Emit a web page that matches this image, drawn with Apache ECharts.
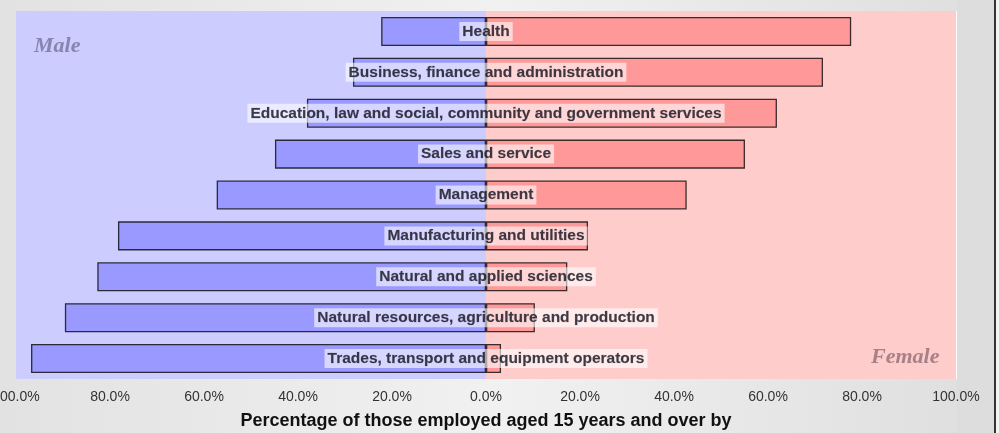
<!DOCTYPE html>
<html>
<head>
<meta charset="utf-8">
<script src="https://cdn.jsdelivr.net/npm/echarts@6/dist/echarts.min.js"></script>
<style>html,body{margin:0;padding:0;}#c{width:999px;height:433px;}</style>
</head>
<body>
<div id="c"></div>
<script>
var categories = [
  "Health",
  "Business, finance and administration",
  "Education, law and social, community and government services",
  "Sales and service",
  "Management",
  "Manufacturing and utilities",
  "Natural and applied sciences",
  "Natural resources, agriculture and production",
  "Trades, transport and equipment operators"
];
var maleValues = [22.3, 28.3, 38.1, 44.9, 57.3, 78.3, 82.7, 89.6, 96.8];
var femaleValues = [77.7, 71.7, 61.9, 55.1, 42.7, 21.7, 17.3, 10.4, 3.2];
var axisTitle = "Percentage of those employed aged 15 years and over by";

var chart = echarts.init(document.getElementById('c'), null, {renderer: 'canvas'});
var option = {
  animation: false,
  backgroundColor: {
    type: 'linear', x: 0, y: 0, x2: 1, y2: 0,
    colorStops: [
      {offset: 0, color: '#e2e2e2'},
      {offset: 0.5, color: '#f1f1f1'},
      {offset: 1, color: '#dedede'}
    ]
  },
  grid: {left: 16, right: 43, top: 11, bottom: 54, containLabel: false, outerBoundsMode: 'none'},
  xAxis: {
    type: 'value', min: -100, max: 100, interval: 20, z: 1,
    axisLine: {show: false}, axisTick: {show: false},
    splitLine: {show: true, lineStyle: {color: '#ffffff', width: 1}},
    axisLabel: {
      color: '#333', fontFamily: 'Liberation Sans, Arial', fontSize: 14, margin: 11,
      formatter: function (v) { return Math.abs(v).toFixed(1) + '%'; }
    },
    name: axisTitle, nameLocation: 'middle', nameGap: 33,
    nameTextStyle: {color: '#111', fontFamily: 'Liberation Sans, Arial', fontWeight: 'bold', fontSize: 18}
  },
  yAxis: {
    type: 'category', data: categories, inverse: true,
    axisLine: {show: false}, axisTick: {show: false}, axisLabel: {show: false},
    splitLine: {show: false}
  },
  graphic: [
    {type: 'rect', left: 957, top: 0, z: -10, shape: {width: 37, height: 433}, style: {fill: '#dddddd'}},
    {type: 'rect', left: 994, top: 0, z: -10, shape: {width: 2, height: 433}, style: {fill: '#333'}},
    {type: 'rect', left: 996, top: 0, z: -10, shape: {width: 3, height: 433}, style: {fill: '#f4f4f4'}},
    {type: 'text', left: 34, top: 35, z: 10, style: {text: 'Male', fill: '#8585b0', font: 'italic bold 22px "Liberation Serif", "Times New Roman", serif'}},
    {type: 'text', left: 871, top: 346, z: 10, style: {text: 'Female', fill: '#a88088', font: 'italic bold 22px "Liberation Serif", "Times New Roman", serif'}}
  ],
  series: [
    {
      type: 'bar', name: 'bg', data: [], z: 0, silent: true,
      markArea: {
        silent: true,
        data: [
          [{xAxis: -100, itemStyle: {color: '#ccccff'}}, {xAxis: 0}],
          [{xAxis: 0, itemStyle: {color: '#ffcccc'}}, {xAxis: 100}]
        ]
      }
    },
    {
      type: 'bar', name: 'Male', z: 2, barWidth: '71%', barGap: '-100%',
      data: maleValues.map(function (v) { return -v; }),
      itemStyle: {color: '#9999ff', borderColor: '#2a2a3a', borderWidth: 1.3}
    },
    {
      type: 'bar', name: 'Female', z: 2, barWidth: '71%', barGap: '-100%',
      data: femaleValues,
      itemStyle: {color: '#ff9999', borderColor: '#3a2a2a', borderWidth: 1.3}
    },
    {
      type: 'scatter', name: 'labels', z: 5, symbolSize: 0, silent: true,
      data: categories.map(function (c) { return [0, c]; }),
      label: {
        show: true, position: 'inside',
        formatter: function (p) { return p.value[1]; },
        color: '#0e0e1a', fontFamily: 'Liberation Sans, Arial', fontWeight: 'bold', fontSize: 15.5,
        textBorderColor: 'rgba(14,14,26,0.35)', textBorderWidth: 0.4,
        backgroundColor: 'rgba(255,255,255,0.75)', padding: [2, 3, 1, 3]
      }
    }
  ]
};
chart.setOption(option);
</script>
</body>
</html>
